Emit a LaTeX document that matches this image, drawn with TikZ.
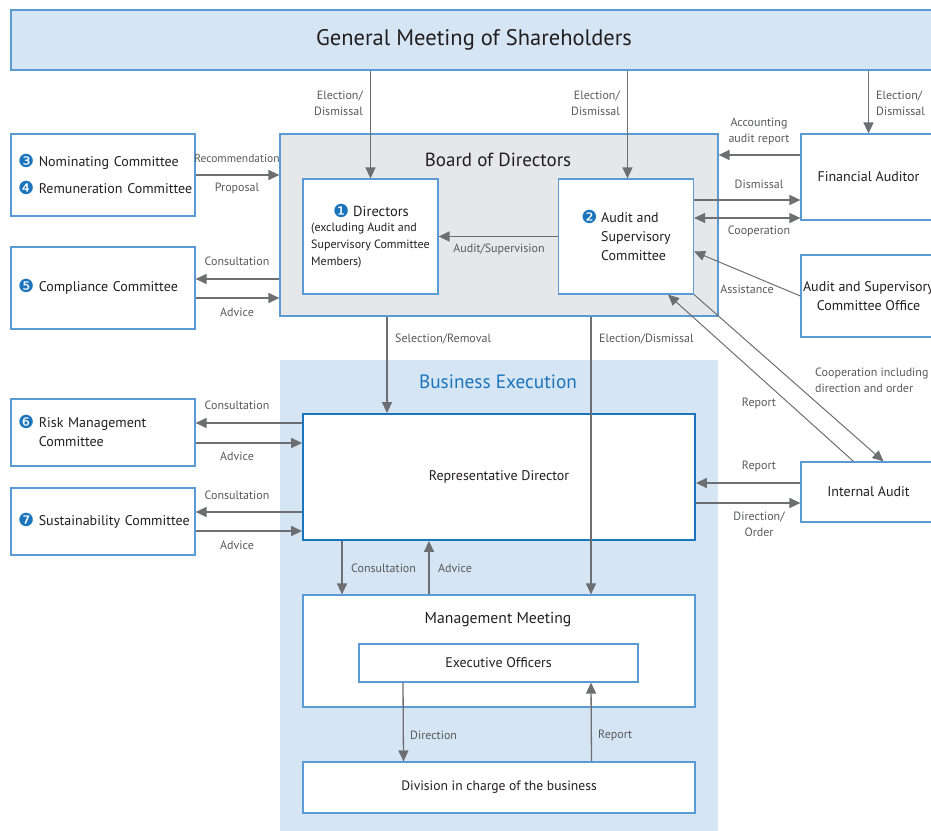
\documentclass[tikz,border=0pt]{standalone}
\usepackage{fontspec}
\setmainfont{PT Sans}
\newfontfamily\dejavu{DejaVu Sans}
\usetikzlibrary{arrows.meta}
\definecolor{lineblue}{HTML}{5B9BD5}
\definecolor{darkblue}{HTML}{1B75BC}
\definecolor{paleblue}{HTML}{D5E5F4}
\definecolor{boardgray}{HTML}{E6E7E8}
\definecolor{arrgray}{HTML}{6D6E71}
\definecolor{labgray}{HTML}{58595B}
\definecolor{txt}{HTML}{231F20}
\def\NUM#1{\smash{\raisebox{-1pt}{\color{darkblue}\dejavu\fontsize{18}{18}\selectfont #1}}}
\def\PH#1{\phantom{\NUM{#1} }}

\begin{document}
\begin{tikzpicture}[x=1pt,y=-1pt,
  box/.style={draw=lineblue,line width=1.2pt,fill=white,inner sep=0pt,text=txt,font=\fontsize{14}{19}\selectfont},
  side/.style={box,text width=170pt,inner xsep=7pt,align=left},
  arr/.style={draw=arrgray,line width=1.3pt,-{Triangle[length=11pt,width=10pt]}},
  lab/.style={text=labgray,font=\fontsize{12}{16}\selectfont,inner sep=0pt,align=center}]
\useasboundingbox (0,0) rectangle (931,830);
% top and regions
\node[box,fill=paleblue,minimum width=926pt,minimum height=60pt,font=\fontsize{22.5}{27}\selectfont] (gm) at (474,40) {General Meeting of Shareholders};
\node[box,fill=boardgray,minimum width=438pt,minimum height=182pt] (board) at (499,225) {};
\node[text=txt,font=\fontsize{19}{23}\selectfont] (boardtitle) at (498,160) {Board of Directors};
\node[fill=paleblue,inner sep=0pt,minimum width=438pt,minimum height=474pt] (be) at (499,597) {};
\node[text=darkblue,font=\fontsize{19.3}{23}\selectfont] (betitle) at (498,382) {Business Execution};
% board members
\node[box,minimum width=135pt,minimum height=115pt] (dir) at (370.5,236.5) {};
\node[text=txt,font=\fontsize{14.5}{19}\selectfont] (dirhead) at (371,211) {\NUM{❶} Directors};
\node[text=txt,font=\fontsize{12}{17}\selectfont,align=left,anchor=north west,inner sep=0pt] (dirnote) at (311,223) {(excluding Audit and\\Supervisory Committee\\Members)};
\node[box,minimum width=135pt,minimum height=115pt,align=left] (aud) at (626,236.5) {\NUM{❷} Audit and\\\PH{❷}Supervisory\\\PH{❷}Committee};
% committees on the left
\node[side,minimum height=82pt] (nom) at (103,175) {\mbox{\NUM{❸} Nominating Committee}\\[8pt]\mbox{\NUM{❹} Remuneration Committee}};
\node[side,minimum height=82pt] (comp) at (103,288) {\mbox{\NUM{❺} Compliance Committee}};
\node[side,minimum height=67pt] (risk) at (103,432.5) {\mbox{\NUM{❻} Risk Management}\\\PH{❻}Committee};
\node[side,minimum height=67pt] (sus) at (103,521.5) {\mbox{\NUM{❼} Sustainability Committee}};
% right side
\node[box,minimum width=135pt,minimum height=86pt] (fa) at (868.5,177) {Financial Auditor};
\node[box,minimum width=135pt,minimum height=82pt,align=center] (office) at (868.5,296) {Audit and Supervisory\\Committee Office};
\node[box,minimum width=135pt,minimum height=60pt] (ia) at (868.5,492) {Internal Audit};
% execution
\node[box,draw=darkblue,line width=1.8pt,minimum width=392pt,minimum height=126pt] (rep) at (499,477) {Representative Director};
\node[box,minimum width=392pt,minimum height=112pt] (mm) at (499,651) {};
\node[text=txt,font=\fontsize{15.7}{19}\selectfont] (mmtitle) at (498,620) {Management Meeting};
\node[box,minimum width=279pt,minimum height=38pt] (exec) at (498.5,663) {Executive Officers};
\node[box,minimum width=392pt,minimum height=51pt,font=\fontsize{13.6}{18}\selectfont] (div) at (499,787.5) {Division in charge of the business};

% arrows
\draw[arr] (gm.south -| dir.north) -- (dir.north);
\draw[arr] ([xshift=1.5pt]gm.south -| aud.north) -- ([xshift=1.5pt]aud.north);
\draw[arr] (gm.south -| fa.north) -- (fa.north);
\draw[arr] ([yshift=22pt]fa.west) -- ([yshift=22pt]fa.west -| board.east);
\draw[arr] ([yshift=36.5pt]aud.east) -- ([yshift=36.5pt]aud.east -| fa.west);
\draw[arr,{Triangle[length=11pt,width=10pt]}-{Triangle[length=11pt,width=10pt]}] ([yshift=18.5pt]aud.east) -- ([yshift=18.5pt]aud.east -| fa.west);
\draw[arr,line width=1pt] (office.west) -- ([yshift=-15pt]aud.east);
\draw[arr,line width=1pt] ([xshift=-15pt]ia.north) -- ([xshift=42pt]aud.south);
\draw[arr,line width=1pt] (aud.south east) -- ([xshift=15pt]ia.north);
\draw[arr] (nom.east) -- (nom.east -| board.west);
\draw[arr] ([yshift=9pt]comp.east -| board.west) -- ([yshift=9pt]comp.east);
\draw[arr] ([yshift=-10pt]comp.east) -- ([yshift=-10pt]comp.east -| board.west);
\draw[arr] (aud.west) -- (dir.east);
\draw[arr] ([xshift=-112pt]rep.north |- board.south) -- ([xshift=-112pt]rep.north);
\draw[arr] ([xshift=92pt]mm.north |- board.south) -- ([xshift=92pt]mm.north);
\draw[arr] ([yshift=9.5pt]risk.east -| rep.west) -- ([yshift=9.5pt]risk.east);
\draw[arr] ([yshift=-10.5pt]risk.east) -- ([yshift=-10.5pt]risk.east -| rep.west);
\draw[arr] ([yshift=9.5pt]sus.east -| rep.west) -- ([yshift=9.5pt]sus.east);
\draw[arr] ([yshift=-9.5pt]sus.east) -- ([yshift=-9.5pt]sus.east -| rep.west);
\draw[arr] ([yshift=9pt]ia.west) -- ([yshift=9pt]ia.west -| rep.east);
\draw[arr] ([yshift=-11pt]ia.west -| rep.east) -- ([yshift=-11pt]ia.west);
\draw[arr] ([xshift=-157pt]rep.south) -- ([xshift=-157pt]mm.north);
\draw[arr] ([xshift=-70pt]mm.north) -- ([xshift=-70pt]rep.south);
\draw[arr] ([xshift=-95.5pt]exec.south) -- ([xshift=-95.5pt]div.north);
\draw[arr] ([xshift=92.5pt]div.north) -- ([xshift=92.5pt]exec.south);

% labels
\node[lab,anchor=east,align=right] (lbA) at (363,103) {Election/\\Dismissal};
\node[lab,anchor=east,align=right] (lbB) at (620,103) {Election/\\Dismissal};
\node[lab,anchor=west,align=left] (lbC) at (876,103) {Election/\\Dismissal};
\node[lab] (lbD) at (759,131) {Accounting\\audit report};
\node[lab] (lbE) at (759,184) {Dismissal};
\node[lab] (lbF) at (759,231) {Cooperation};
\node[lab] (lbG) at (747,289) {Assistance};
\node[lab,font=\fontsize{11.5}{16}\selectfont] (lbH) at (237,158) {Recommendation};
\node[lab] (lbI) at (237,188) {Proposal};
\node[lab] (lbJ) at (237,261) {Consultation};
\node[lab] (lbK) at (237,312) {Advice};
\node[lab] (lbL) at (499,249) {Audit/Supervision};
\node[lab,anchor=west] (lbM) at (395,339) {Selection/Removal};
\node[lab,anchor=west] (lbN) at (599,339) {Election/Dismissal};
\node[lab,anchor=west,align=left] (lbO) at (815,380) {Cooperation including\\direction and order};
\node[lab] (lbP) at (759,403) {Report};
\node[lab] (lbQ) at (237,405) {Consultation};
\node[lab] (lbR) at (237,456) {Advice};
\node[lab] (lbS) at (237,495) {Consultation};
\node[lab] (lbT) at (237,545) {Advice};
\node[lab] (lbU) at (759,466) {Report};
\node[lab] (lbV) at (759,524) {Direction/\\Order};
\node[lab,anchor=west] (lbW) at (351,568) {Consultation};
\node[lab,anchor=west] (lbX) at (438,568) {Advice};
\node[lab,anchor=west] (lbY) at (410,735) {Direction};
\node[lab,anchor=west] (lbZ) at (598,735) {Report};
\end{tikzpicture}
\end{document}
